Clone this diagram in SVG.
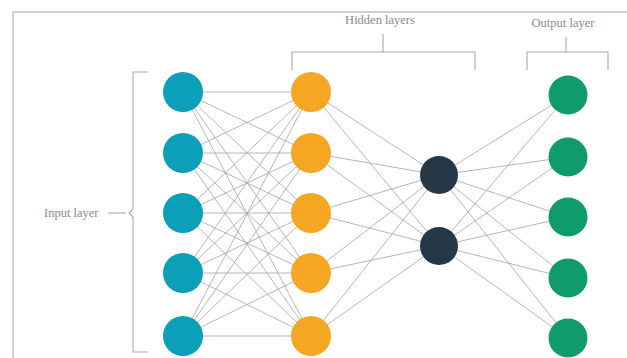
<svg xmlns="http://www.w3.org/2000/svg" width="627" height="358" viewBox="0 0 627 358">
<style>
.bg{fill:#fff}
.frame{fill:none;stroke:#c4c4c4;stroke-width:1.5}
.edge{stroke:#a3a3a3;stroke-width:0.8;fill:none}
.br{fill:none;stroke:#a8a8a8;stroke-width:1.1}
.lbl{font-family:"Liberation Serif",serif;font-size:12.5px;fill:#8a8a8a}
.in{fill:#0b9fba}
.h1{fill:#f5a623}
.h2{fill:#263746}
.out{fill:#0f9b6b}
</style>
<rect class="bg" x="0" y="0" width="627" height="358"/>
<path class="frame" d="M13 360 V12 H630"/>
<g id="connectors">
<g class="edge">
<line x1="183" y1="92" x2="311" y2="92"/><line x1="183" y1="92" x2="311" y2="153"/><line x1="183" y1="92" x2="311" y2="213"/><line x1="183" y1="92" x2="311" y2="273"/><line x1="183" y1="92" x2="311" y2="336"/>
<line x1="183" y1="153" x2="311" y2="92"/><line x1="183" y1="153" x2="311" y2="153"/><line x1="183" y1="153" x2="311" y2="213"/><line x1="183" y1="153" x2="311" y2="273"/><line x1="183" y1="153" x2="311" y2="336"/>
<line x1="183" y1="213" x2="311" y2="92"/><line x1="183" y1="213" x2="311" y2="153"/><line x1="183" y1="213" x2="311" y2="213"/><line x1="183" y1="213" x2="311" y2="273"/><line x1="183" y1="213" x2="311" y2="336"/>
<line x1="183" y1="273" x2="311" y2="92"/><line x1="183" y1="273" x2="311" y2="153"/><line x1="183" y1="273" x2="311" y2="213"/><line x1="183" y1="273" x2="311" y2="273"/><line x1="183" y1="273" x2="311" y2="336"/>
<line x1="183" y1="336" x2="311" y2="92"/><line x1="183" y1="336" x2="311" y2="153"/><line x1="183" y1="336" x2="311" y2="213"/><line x1="183" y1="336" x2="311" y2="273"/><line x1="183" y1="336" x2="311" y2="336"/>
<line x1="311" y1="92" x2="439" y2="175"/><line x1="311" y1="92" x2="439" y2="246"/>
<line x1="311" y1="153" x2="439" y2="175"/><line x1="311" y1="153" x2="439" y2="246"/>
<line x1="311" y1="213" x2="439" y2="175"/><line x1="311" y1="213" x2="439" y2="246"/>
<line x1="311" y1="273" x2="439" y2="175"/><line x1="311" y1="273" x2="439" y2="246"/>
<line x1="311" y1="336" x2="439" y2="175"/><line x1="311" y1="336" x2="439" y2="246"/>
<line x1="439" y1="175" x2="568" y2="95"/><line x1="439" y1="175" x2="568" y2="157"/><line x1="439" y1="175" x2="568" y2="217"/><line x1="439" y1="175" x2="568" y2="278"/><line x1="439" y1="175" x2="568" y2="338"/>
<line x1="439" y1="246" x2="568" y2="95"/><line x1="439" y1="246" x2="568" y2="157"/><line x1="439" y1="246" x2="568" y2="217"/><line x1="439" y1="246" x2="568" y2="278"/><line x1="439" y1="246" x2="568" y2="338"/>
</g>
</g>
<g id="input-bracket">
<path class="br" d="M148 72 H133 V209 L129 213 L133 217 V352 H148"/>
<line class="br" x1="108" y1="213" x2="126" y2="213"/>
<text class="lbl" x="44" y="217">Input layer</text>
</g>
<g id="hidden-bracket">
<path class="br" d="M292 70 V52 H475 V70"/>
<line class="br" x1="383" y1="34" x2="383" y2="52"/>
<text class="lbl" x="380" y="24" text-anchor="middle">Hidden layers</text>
</g>
<g id="output-bracket">
<path class="br" d="M527 70 V52 H608 V70"/>
<line class="br" x1="566" y1="37" x2="566" y2="52"/>
<text class="lbl" x="563" y="27" text-anchor="middle">Output layer</text>
</g>
<g id="in1"><circle class="in" cx="183" cy="92" r="20"/></g>
<g id="in2"><circle class="in" cx="183" cy="153" r="20"/></g>
<g id="in3"><circle class="in" cx="183" cy="213" r="20"/></g>
<g id="in4"><circle class="in" cx="183" cy="273" r="20"/></g>
<g id="in5"><circle class="in" cx="183" cy="336" r="20"/></g>
<g id="h1a"><circle class="h1" cx="311" cy="92" r="20"/></g>
<g id="h1b"><circle class="h1" cx="311" cy="153" r="20"/></g>
<g id="h1c"><circle class="h1" cx="311" cy="213" r="20"/></g>
<g id="h1d"><circle class="h1" cx="311" cy="273" r="20"/></g>
<g id="h1e"><circle class="h1" cx="311" cy="336" r="20"/></g>
<g id="h2a"><circle class="h2" cx="439" cy="175" r="19"/></g>
<g id="h2b"><circle class="h2" cx="439" cy="246" r="19"/></g>
<g id="out1"><circle class="out" cx="568" cy="95" r="19.5"/></g>
<g id="out2"><circle class="out" cx="568" cy="157" r="19.5"/></g>
<g id="out3"><circle class="out" cx="568" cy="217" r="19.5"/></g>
<g id="out4"><circle class="out" cx="568" cy="278" r="19.5"/></g>
<g id="out5"><circle class="out" cx="568" cy="338" r="19.5"/></g>
</svg>
